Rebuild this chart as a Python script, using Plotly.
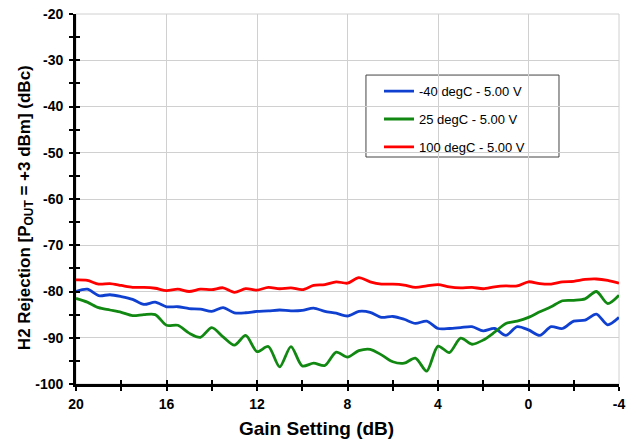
import plotly.graph_objects as go

gain = [20, 19.5, 19, 18.5, 18, 17.5, 17, 16.5, 16, 15.5, 15, 14.5, 14, 13.5, 13, 12.5,
        12, 11.5, 11, 10.5, 10, 9.5, 9, 8.5, 8, 7.5, 7, 6.5, 6, 5.5, 5, 4.5, 4, 3.5, 3,
        2.5, 2, 1.5, 1, 0.5, 0, -0.5, -1, -1.5, -2, -2.5, -3, -3.5, -4]

blue_m40 = [-80.0, -79.5, -80.9, -80.7, -81.1, -81.7, -82.8, -82.3, -83.3, -83.3, -83.7,
            -83.8, -84.3, -83.5, -84.6, -84.6, -84.3, -84.2, -84.0, -84.2, -84.1, -83.6,
            -84.3, -84.7, -85.3, -84.3, -84.5, -85.6, -85.4, -86.0, -86.9, -86.4, -88.0,
            -88.0, -87.8, -87.6, -88.5, -88.0, -89.5, -87.6, -88.3, -89.5, -87.6, -88.0,
            -86.4, -86.2, -84.9, -87.2, -85.6]

green_25 = [-81.5, -82.3, -83.5, -84.0, -84.5, -85.2, -85.0, -85.0, -87.3, -87.3, -89.0,
            -89.9, -87.8, -89.8, -91.6, -89.5, -93.0, -91.9, -96.3, -91.9, -96.1, -95.5,
            -96.0, -93.1, -94.2, -92.8, -92.5, -93.7, -95.2, -95.5, -94.4, -97.2, -91.8,
            -93.2, -90.1, -91.4, -90.5, -88.8, -86.9, -86.4, -85.6, -84.4, -83.3, -82.0,
            -81.9, -81.6, -80.0, -82.6, -80.8]

red_100 = [-77.5, -77.6, -78.4, -78.3, -78.7, -79.1, -79.1, -79.3, -79.8, -79.5, -80.0,
           -79.5, -79.6, -79.2, -80.2, -79.4, -79.7, -79.1, -79.4, -79.2, -79.6, -78.7,
           -78.5, -77.9, -78.2, -77.0, -77.9, -78.4, -78.4, -78.6, -79.1, -78.8, -78.5,
           -79.0, -79.2, -79.1, -79.4, -79.0, -78.8, -78.8, -77.9, -78.3, -78.4, -77.9,
           -77.8, -77.4, -77.3, -77.6, -78.2]

series_names = ["-40 degC - 5.00 V", "25 degC - 5.00 V", "100 degC - 5.00 V"]
series_values = [blue_m40, green_25, red_100]
series_colors = ["#1040D0", "#118811", "#FF0000"]

x_ticks = [20, 16, 12, 8, 4, 0, -4]
y_ticks = [-20, -30, -40, -50, -60, -70, -80, -90, -100]

x_title = "Gain Setting (dB)"
y_title = "H2 Rejection [P<sub>OUT</sub> = +3 dBm] (dBc)"

FONT = "Liberation Sans, Arial, sans-serif"

fig = go.Figure()
for i, (name, vals, col) in enumerate(zip(series_names, series_values, series_colors)):
    fig.add_trace(go.Scatter(
        x=gain, y=vals, name=name, mode="lines",
        line=dict(color=col, width=2.8, shape="spline", smoothing=0.8),
        legendgroup=f"g{i}",
    ))

tickfont = dict(family=FONT, size=14, color="black", weight="bold")

fig.update_layout(
    width=637, height=442,
    margin=dict(l=76, r=18, t=14, b=58, autoexpand=False),
    paper_bgcolor="white", plot_bgcolor="white",
    showlegend=True,
    legend=dict(
        x=0.558, y=0.832, xanchor="left", yanchor="top",
        bgcolor="rgba(0,0,0,0)", borderwidth=0,
        font=dict(family=FONT, size=13, color="black"),
        tracegroupgap=8,
    ),
    xaxis=dict(
        range=[20, -4], autorange=False, automargin=False,
        tickmode="array", tickvals=x_ticks, ticktext=[str(v) for v in x_ticks],
        showgrid=True, gridcolor="#d0d0d0", gridwidth=1,
        showline=True, linecolor="black", linewidth=2.7,
        ticks="outside", ticklen=4, tickwidth=2, tickcolor="black",
        minor=dict(dtick=2, tick0=0, ticks="outside", ticklen=4, tickwidth=2,
                   tickcolor="black", showgrid=False),
        tickfont=tickfont, zeroline=False, ticklabeloverflow="allow",
        ticklabelstandoff=1,
    ),
    yaxis=dict(
        range=[-100, -20], autorange=False, automargin=False,
        tickmode="array", tickvals=y_ticks, ticktext=[str(v) for v in y_ticks],
        showgrid=True, gridcolor="#d0d0d0", gridwidth=1,
        showline=True, linecolor="black", linewidth=2.7,
        ticks="outside", ticklen=4, tickwidth=2, tickcolor="black",
        minor=dict(dtick=5, tick0=0, ticks="outside", ticklen=4, tickwidth=2,
                   tickcolor="black", showgrid=False),
        tickfont=tickfont, zeroline=False, ticklabeloverflow="allow",
        ticklabelstandoff=3,
    ),
    xaxis2=dict(
        overlaying="x", matches="x", range=[20, -4], autorange=False, automargin=False,
        tickmode="array", tickvals=x_ticks, showticklabels=False, showgrid=False,
        ticks="inside", ticklen=4, tickwidth=2, tickcolor="black",
        minor=dict(dtick=2, tick0=0, ticks="inside", ticklen=4, tickwidth=2,
                   tickcolor="black", showgrid=False),
        showline=False, zeroline=False,
    ),
    yaxis2=dict(
        overlaying="y", matches="y", range=[-100, -20], autorange=False, automargin=False,
        tickmode="array", tickvals=y_ticks, showticklabels=False, showgrid=False,
        ticks="inside", ticklen=4, tickwidth=2, tickcolor="black",
        minor=dict(dtick=5, tick0=0, ticks="inside", ticklen=4, tickwidth=2,
                   tickcolor="black", showgrid=False),
        showline=False, zeroline=False,
    ),
    shapes=[
        # light grey frame (top/right edges coincide with the outer gridlines)
        dict(type="rect", xref="paper", yref="paper", x0=0, x1=1, y0=0, y1=1,
             line=dict(color="#d0d0d0", width=1), layer="below"),
        # legend box
        dict(type="rect", xref="paper", yref="paper",
             x0=0.534, x1=0.8895, y0=0.6135, y1=0.835,
             line=dict(color="#444444", width=1), fillcolor="white", layer="below"),
    ],
    annotations=[
        dict(text=x_title, xref="paper", yref="paper", x=0.442, y=-0.1216,
             xanchor="center", yanchor="middle", showarrow=False,
             font=dict(family=FONT, size=19, color="black", weight="bold")),
        dict(text=y_title, xref="paper", yref="paper", x=-0.0921, y=0.478,
             xanchor="center", yanchor="middle", showarrow=False, textangle=-90,
             font=dict(family=FONT, size=17, color="black", weight="bold")),
    ],
)

# helper trace so the overlay axes (inner halves of the crossing ticks) are drawn
fig.add_trace(go.Scatter(x=[None], y=[None], xaxis="x2", yaxis="y2",
                         showlegend=False, hoverinfo="skip"))

# place the figure flush with the window's top-left corner
fig.write_html("out.html", config={"displayModeBar": False},
               post_script="document.body.style.margin='0';")
